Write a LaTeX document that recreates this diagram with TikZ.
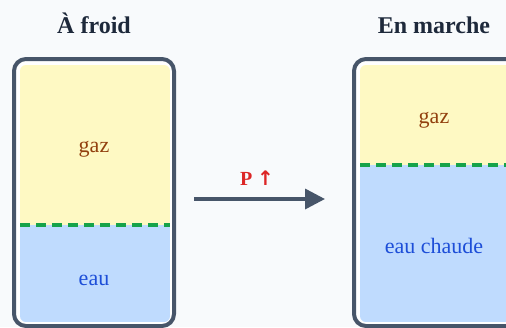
\documentclass[tikz,border=0pt]{standalone}
\usepackage{fontspec}
\setmainfont{Liberation Serif}
\newfontfamily\symbfont{DejaVu Sans}
\usetikzlibrary{arrows.meta}
\definecolor{bgc}{HTML}{F8FAFC}
\definecolor{slate}{HTML}{475569}
\definecolor{titlec}{HTML}{1E293B}
\definecolor{gasfill}{HTML}{FEF9C3}
\definecolor{gastext}{HTML}{92400E}
\definecolor{waterfill}{HTML}{BFDBFE}
\definecolor{watertext}{HTML}{1D4ED8}
\definecolor{levelc}{HTML}{16A34A}
\definecolor{pressc}{HTML}{DC2626}
\tikzset{
  tank/.style={draw=slate, line width=4pt, fill=white, rounded corners=12pt},
  level/.style={draw=levelc, line width=3.2pt, dash pattern=on 10pt off 6pt},
  title/.style={anchor=base, inner sep=0pt, font=\fontsize{24}{28}\selectfont\bfseries, text=titlec},
  gaslabel/.style={anchor=base, inner sep=0pt, font=\fontsize{22}{26}\selectfont, text=gastext},
  waterlabel/.style={anchor=base, inner sep=0pt, font=\fontsize{22}{26}\selectfont, text=watertext},
  flow/.style={draw=slate, line width=3.5pt, -{Triangle[length=20pt,width=20pt]}}
}
\begin{document}
\begin{tikzpicture}[x=1pt,y=-1pt]
  \useasboundingbox (0,0) rectangle (506,327);
  \fill[bgc] (0,0) rectangle (506,327);

  % cold state
  \node[title] (tcold) at (94,33) {À froid};
  \draw[tank] (14,59) rectangle (174,326);
  \begin{scope}
    \clip[rounded corners=6pt] (20,65) rectangle (170,322);
    \fill[gasfill] (20,65) rectangle (170,225);
    \fill[waterfill] (20,225) rectangle (170,322);
  \end{scope}
  \coordinate (lc1) at (20,225);
  \coordinate (lc2) at (170,225);
  \draw[level] (lc1) -- (lc2);
  \node[gaslabel] (gcold) at (94,152) {gaz};
  \node[waterlabel] (wcold) at (94,285) {eau};

  % transition arrow
  \coordinate (a1) at (194,199);
  \coordinate (a2) at (325,199);
  \draw[flow] (a1) -- (a2);
  \node[anchor=base, inner sep=0pt, font=\fontsize{20}{24}\selectfont\bfseries, text=pressc] (pup) at (257,185) {P {\symbfont\fontsize{20}{24}\selectfont↑}};

  % running state
  \node[title] (thot) at (434,33) {En marche};
  \draw[tank] (354,59) rectangle (520,326);
  \begin{scope}
    \clip[rounded corners=6pt] (360,65) rectangle (514,322);
    \fill[gasfill] (360,65) rectangle (514,165);
    \fill[waterfill] (360,165) rectangle (514,322);
  \end{scope}
  \coordinate (lh1) at (360,165);
  \coordinate (lh2) at (514,165);
  \draw[level] (lh1) -- (lh2);
  \node[gaslabel] (ghot) at (434,123) {gaz};
  \node[waterlabel] (whot) at (434,253) {eau chaude};
\end{tikzpicture}
\end{document}
